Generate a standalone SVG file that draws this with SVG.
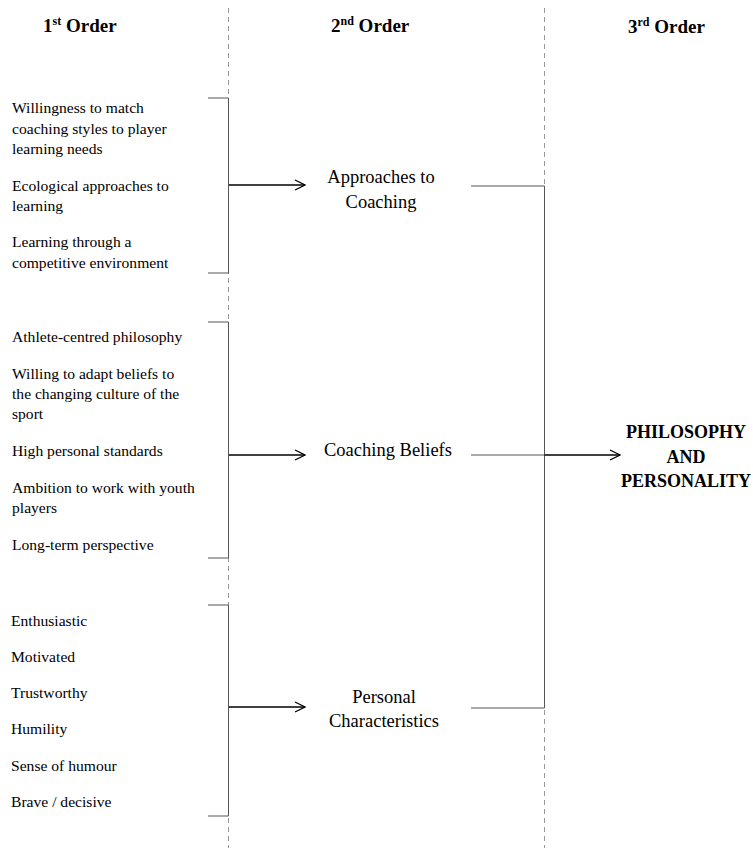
<svg xmlns="http://www.w3.org/2000/svg" width="753" height="848" viewBox="0 0 753 848">
<defs>
<marker id="ah" viewBox="0 0 12 12" refX="11" refY="6" markerWidth="12" markerHeight="12" markerUnits="userSpaceOnUse" orient="auto">
<path d="M1,1 L11,6 L1,11" fill="none" stroke="#000" stroke-width="1.3"/>
</marker>
<style>
.t{font-family:"Liberation Serif","Times New Roman",serif;font-size:15.6px;fill:#000}
.m{font-family:"Liberation Serif","Times New Roman",serif;font-size:18.5px;fill:#000;text-anchor:middle}
.h{font-family:"Liberation Serif","Times New Roman",serif;font-size:19px;font-weight:bold;fill:#000}
.b{font-family:"Liberation Serif","Times New Roman",serif;font-size:18px;font-weight:bold;fill:#000;text-anchor:middle}
.sup{font-size:12px}
.dash{stroke:#999;stroke-width:1;stroke-dasharray:5,4;fill:none}
.br{stroke:#555;stroke-width:1;fill:none}
.ar{stroke:#000;stroke-width:1.3;fill:none}
.ln{stroke:#555;stroke-width:1;fill:none}
</style>
</defs>
<rect width="753" height="848" fill="#fff"/>
<g id="columns">
<line class="dash" x1="228.5" y1="8" x2="228.5" y2="848"/>
<line class="dash" x1="544.5" y1="8" x2="544.5" y2="848"/>
</g>
<g id="headers">
<text class="h" x="43" y="32">1<tspan class="sup" dy="-7">st</tspan><tspan dy="7"> Order</tspan></text>
<text class="h" x="331" y="32">2<tspan class="sup" dy="-7">nd</tspan><tspan dy="7"> Order</tspan></text>
<text class="h" x="628" y="33">3<tspan class="sup" dy="-7">rd</tspan><tspan dy="7"> Order</tspan></text>
</g>
<g id="first-order-1">
<text class="t" x="12" y="113">Willingness to match</text>
<text class="t" x="12" y="134">coaching styles to player</text>
<text class="t" x="12" y="154">learning needs</text>
<text class="t" x="12" y="191">Ecological approaches to</text>
<text class="t" x="12" y="211">learning</text>
<text class="t" x="12" y="247">Learning through a</text>
<text class="t" x="12" y="268">competitive environment</text>
</g>
<g id="first-order-2">
<text class="t" x="12" y="342">Athlete-centred philosophy</text>
<text class="t" x="12" y="379">Willing to adapt beliefs to</text>
<text class="t" x="12" y="399">the changing culture of the</text>
<text class="t" x="12" y="419">sport</text>
<text class="t" x="12" y="456">High personal standards</text>
<text class="t" x="12" y="493">Ambition to work with youth</text>
<text class="t" x="12" y="513">players</text>
<text class="t" x="12" y="550">Long-term perspective</text>
</g>
<g id="first-order-3">
<text class="t" x="11" y="626">Enthusiastic</text>
<text class="t" x="11" y="662">Motivated</text>
<text class="t" x="11" y="698">Trustworthy</text>
<text class="t" x="11" y="734">Humility</text>
<text class="t" x="11" y="771">Sense of humour</text>
<text class="t" x="11" y="807">Brave / decisive</text>
</g>
<g id="approaches-to-coaching">
<text class="m" x="381" y="183">Approaches to</text>
<text class="m" x="381" y="208">Coaching</text>
</g>
<g id="coaching-beliefs">
<text class="m" x="388" y="456">Coaching Beliefs</text>
</g>
<g id="personal-characteristics">
<text class="m" x="384" y="703">Personal</text>
<text class="m" x="384" y="727">Characteristics</text>
</g>
<g id="philosophy-and-personality">
<text class="b" x="686" y="438">PHILOSOPHY</text>
<text class="b" x="686" y="463">AND</text>
<text class="b" x="686" y="487">PERSONALITY</text>
</g>
<g id="connectors">
<path class="br" d="M208,98 H228.5 V273 H208"/>
<path class="br" d="M208,322 H228.5 V558 H208"/>
<path class="br" d="M208,605 H228.5 V816 H208"/>
<line class="ar" x1="229" y1="185" x2="305" y2="185" marker-end="url(#ah)"/>
<line class="ar" x1="229" y1="455" x2="305" y2="455" marker-end="url(#ah)"/>
<line class="ar" x1="229" y1="707" x2="305" y2="707" marker-end="url(#ah)"/>
<path class="ln" d="M471,186 H544.5 V708 H471"/>
<line class="ln" x1="471" y1="455" x2="544.5" y2="455"/>
<line class="ar" x1="544.5" y1="455" x2="620" y2="455" marker-end="url(#ah)"/>
</g>
</svg>
